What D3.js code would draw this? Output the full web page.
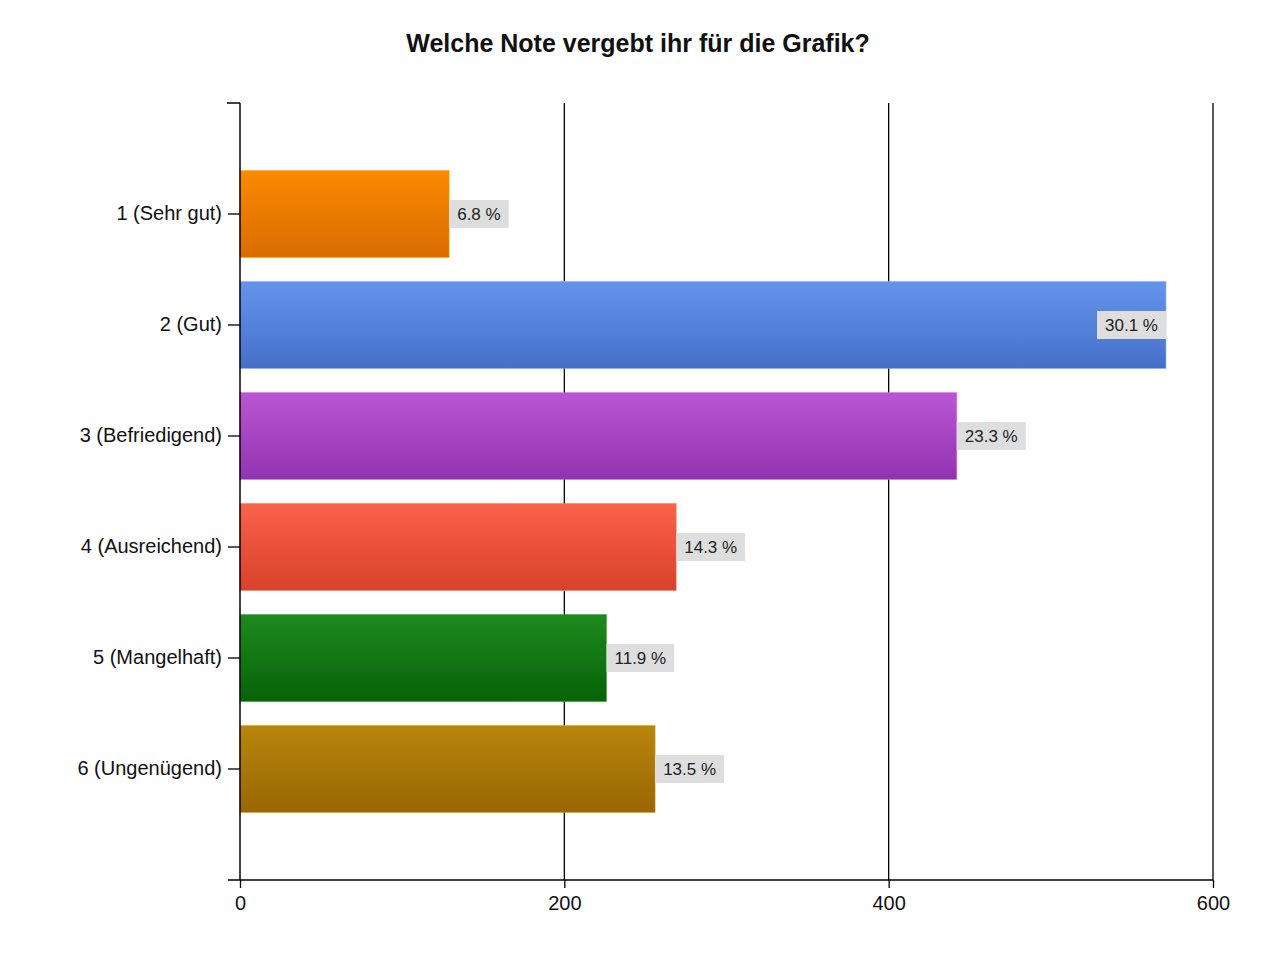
<!DOCTYPE html>
<html><head><meta charset="utf-8">
<script src="https://cdn.jsdelivr.net/npm/d3@7"></script>
<style>body{margin:0;background:#fff;} svg{display:block;}</style>
</head><body>
<svg id="c" width="1280" height="960"></svg>
<script>
const categories = ["1 (Sehr gut)","2 (Gut)","3 (Befriedigend)","4 (Ausreichend)","5 (Mangelhaft)","6 (Ungenügend)"];
const values = [129, 571, 442, 269, 226, 256];
const percentLabels = ["6.8 %","30.1 %","23.3 %","14.3 %","11.9 %","13.5 %"];
const xTicks = [0, 200, 400, 600];
const topColors = ["#fb8a00","#6494ec","#ba56d4","#fa624a","#1f8a1f","#b8860b"];
const bottomColors = ["#d96c00","#4570ca","#9133b0","#d8412a","#066306","#9a6605"];
const chartTitle = "Welche Note vergebt ihr für die Grafik?";

(function(){
const svg = d3.select("#c");
const font = "'Liberation Sans', Arial, sans-serif";
const mLeft = 240, mRight = 1213, mTop = 103, mBottom = 880;

const x = d3.scaleLinear().domain([0, 600]).range([mLeft, mRight]);
const y = d3.scaleBand().domain(categories).range([mTop, mBottom]).paddingInner(0.216).paddingOuter(0.608);

const defs = svg.append("defs");
categories.forEach((c, i) => {
  const g = defs.append("linearGradient").attr("id", "g" + i).attr("x1", 0).attr("y1", 0).attr("x2", 0).attr("y2", 1);
  g.append("stop").attr("offset", "0%").attr("stop-color", topColors[i]);
  g.append("stop").attr("offset", "100%").attr("stop-color", bottomColors[i]);
});

svg.append("text").attr("x", 638).attr("y", 52).attr("text-anchor", "middle")
  .style("font-family", font).style("font-weight", "bold").style("font-size", "25px").attr("fill", "#111")
  .text(chartTitle);

svg.append("g").selectAll("line").data(xTicks.filter(d => d > 0)).join("line")
  .attr("x1", d => x(d)).attr("x2", d => x(d)).attr("y1", mTop).attr("y2", mBottom)
  .attr("stroke", "#000").attr("stroke-width", 1.3);

svg.append("g").selectAll("rect").data(values).join("rect")
  .attr("x", x(0)).attr("y", (d, i) => y(categories[i]))
  .attr("width", d => x(d) - x(0)).attr("height", y.bandwidth())
  .attr("fill", (d, i) => `url(#g${i})`)
  .attr("stroke", (d, i) => d3.color(topColors[i]).brighter(0.6)).attr("stroke-opacity", 0.5).attr("stroke-width", 1);

const xAxis = d3.axisBottom(x).tickValues(xTicks).tickSize(8).tickSizeOuter(0).tickFormat(d3.format("d"));
const gx = svg.append("g").attr("transform", `translate(0,${mBottom})`).call(xAxis);
gx.select(".domain").remove();
gx.append("line").attr("x1", mLeft - 12).attr("x2", mRight).attr("y1", 0).attr("y2", 0).attr("stroke", "#000").attr("stroke-width", 1.5);
gx.selectAll(".tick line").attr("stroke", "#000").attr("stroke-width", 1.3);
gx.selectAll(".tick text").attr("y", 16).style("font-family", font).style("font-size", "20px").attr("fill", "#111");

const yAxis = d3.axisLeft(y).tickSize(12).tickSizeOuter(0).tickPadding(6);
const gy = svg.append("g").attr("transform", `translate(${mLeft},0)`).call(yAxis);
gy.select(".domain").remove();
gy.append("line").attr("x1", 0).attr("x2", 0).attr("y1", mTop).attr("y2", mBottom).attr("stroke", "#000").attr("stroke-width", 1.5);
gy.append("line").attr("x1", -13).attr("x2", 0).attr("y1", mTop).attr("y2", mTop).attr("stroke", "#000").attr("stroke-width", 1.5);
gy.selectAll(".tick line").attr("stroke", "#000").attr("stroke-width", 1.3);
gy.selectAll(".tick text").style("font-family", font).style("font-size", "20px").attr("fill", "#111");

const lg = svg.append("g");
values.forEach((v, i) => {
  const cy = y(categories[i]) + y.bandwidth() / 2;
  const g = lg.append("g");
  const t = g.append("text").attr("y", cy).attr("dy", "0.35em")
    .style("font-family", font).style("font-size", "17px").attr("fill", "#222").text(percentLabels[i]);
  const w = t.node().getComputedTextLength() + 16;
  let bx = x(v);
  if (bx + w > mRight) bx = x(v) - w;
  g.insert("rect", "text").attr("x", bx).attr("y", cy - 14).attr("width", w).attr("height", 28).attr("fill", "#dedede");
  t.attr("x", bx + 8);
});
})();
</script>
</body></html>
